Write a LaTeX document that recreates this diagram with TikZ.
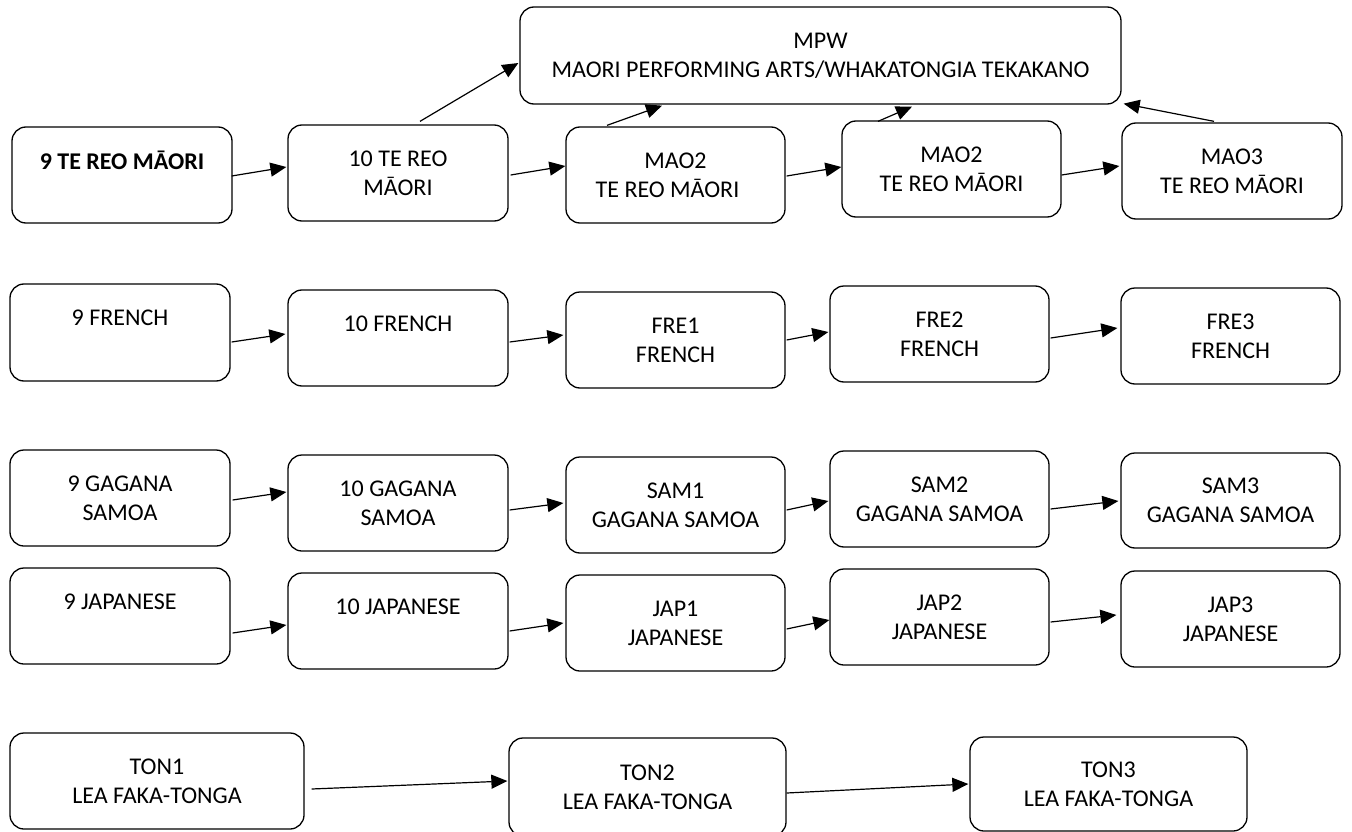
\documentclass[tikz,border=0pt]{standalone}
\usepackage{fontspec}
\setmainfont{Carlito}
\usetikzlibrary{arrows.meta,calc}
\begin{document}
\begin{tikzpicture}[x=1pt,y=-1pt,
  box/.style={draw=black, line width=1.3pt, rounded corners=14pt, align=center, inner sep=0pt,
    minimum width=220pt, minimum height=96pt, font=\fontsize{24}{29}\selectfont},
  arr/.style={line width=1.2pt, -{Triangle[length=16pt,width=14pt]}}]
\useasboundingbox (0,0) rectangle (1352,832);
% top box
\node[box, minimum width=601pt, minimum height=97pt] (MPW) at (820.5,55.5) {MPW\\MAORI PERFORMING ARTS/WHAKATONGIA TEKAKANO};
% row 1
\node[box] (A1) at (122,175) {\textbf{9 TE REO MĀORI}\\\mbox{}};
\node[box] (A2) at (398,173) {10 TE REO\\MĀORI};
\node[box, minimum width=219pt] (A3) at (675.5,175) {MAO2\\TE REO MĀORI\hspace*{16pt}};
\node[box, minimum width=219pt] (A4) at (951.5,169) {MAO2\\TE REO MĀORI};
\node[box] (A5) at (1232,171) {MAO3\\TE REO MĀORI};
% row 2
\node[box, minimum height=97pt] (B1) at (120,332.5) {9 FRENCH\\\mbox{}};
\node[box] (B2) at (398,338) {10 FRENCH\\\mbox{}};
\node[box, minimum width=219pt] (B3) at (675.5,340) {FRE1\\FRENCH};
\node[box, minimum width=219pt] (B4) at (939.5,334) {FRE2\\FRENCH};
\node[box, minimum width=219pt] (B5) at (1230.5,336) {FRE3\\FRENCH};
% row 3
\node[box] (C1) at (120,498) {9 GAGANA\\SAMOA};
\node[box] (C2) at (398,503) {10 GAGANA\\SAMOA};
\node[box, minimum width=219pt] (C3) at (675.5,505) {SAM1\\GAGANA SAMOA};
\node[box, minimum width=219pt] (C4) at (939.5,499) {SAM2\\GAGANA SAMOA};
\node[box, minimum width=219pt, minimum height=95pt] (C5) at (1230.5,500.5) {SAM3\\GAGANA SAMOA};
% row 4
\node[box] (D1) at (120,616) {9 JAPANESE\\\mbox{}};
\node[box] (D2) at (398,621) {10 JAPANESE\\\mbox{}};
\node[box, minimum width=219pt] (D3) at (675.5,623) {JAP1\\JAPANESE};
\node[box, minimum width=219pt] (D4) at (939.5,617) {JAP2\\JAPANESE};
\node[box, minimum width=219pt] (D5) at (1230.5,619) {JAP3\\JAPANESE};
% row 5
\node[box, minimum width=294pt] (E1) at (157,781) {TON1\\LEA FAKA-TONGA};
\node[box, minimum width=277pt, minimum height=98pt] (E2) at (647.5,787) {TON2\\LEA FAKA-TONGA};
\node[box, minimum width=277pt, minimum height=94pt] (E3) at (1108.5,784) {TON3\\LEA FAKA-TONGA};
% arrows row 1
\draw[arr] ($(A1.east)+(-1,1)$) -- ($(A2.west)+(-1,-6)$);
\draw[arr] ($(A2.east)+(2,2)$) -- ($(A3.west)+(0,-9)$);
\draw[arr] ($(A3.east)+(1,1)$) -- ($(A4.west)+(0,-2)$);
\draw[arr] ($(A4.east)+(0,6)$) -- ($(A5.west)+(-2,-5)$);
\draw[arr] ($(A2.north)+(22,-3)$) -- ($(MPW.west)+(-1,7.5)$);
\draw[arr] ($(A3.north)+(-68.5,-1)$) -- ($(MPW.south)+(-158.5,1)$);
\draw[arr] ($(A4.north)+(-73.5,1)$) -- ($(MPW.south)+(91.5,2)$);
\draw[arr] ($(A5.north)+(-18,-1)$) -- ($(MPW.south east)+(2,-1)$);
% arrows row 2
\draw[arr] ($(B1.east)+(1,9.5)$) -- ($(B2.west)+(-2,-4)$);
\draw[arr] ($(B2.east)+(1,4)$) -- ($(B3.west)+(-2,-5)$);
\draw[arr] ($(B3.east)+(1,0)$) -- ($(B4.west)+(-1,-2)$);
\draw[arr] ($(B4.east)+(1,4)$) -- ($(B5.west)+(-3,-8)$);
% arrows row 3
\draw[arr] ($(C1.east)+(2,2)$) -- ($(C2.west)+(-1,-11)$);
\draw[arr] ($(C2.east)+(1,7)$) -- ($(C3.west)+(-2,-2)$);
\draw[arr] ($(C3.east)+(1,5)$) -- ($(C4.west)+(-1,2)$);
\draw[arr] ($(C4.east)+(1,10)$) -- ($(C5.west)+(-2,0.5)$);
% arrows row 4
\draw[arr] ($(D1.east)+(2,17)$) -- ($(D2.west)+(-1,4)$);
\draw[arr] ($(D2.east)+(1,10)$) -- ($(D3.west)+(-2,0)$);
\draw[arr] ($(D3.east)+(1,6)$) -- ($(D4.west)+(0,3)$);
\draw[arr] ($(D4.east)+(1,5)$) -- ($(D5.west)+(-4,-4)$);
% arrows row 5
\draw[arr] ($(E1.east)+(7,8)$) -- ($(E2.west)+(-1,-6)$);
\draw[arr] ($(E2.east)+(0,6)$) -- ($(E3.west)+(-1,0)$);
\end{tikzpicture}
\end{document}
